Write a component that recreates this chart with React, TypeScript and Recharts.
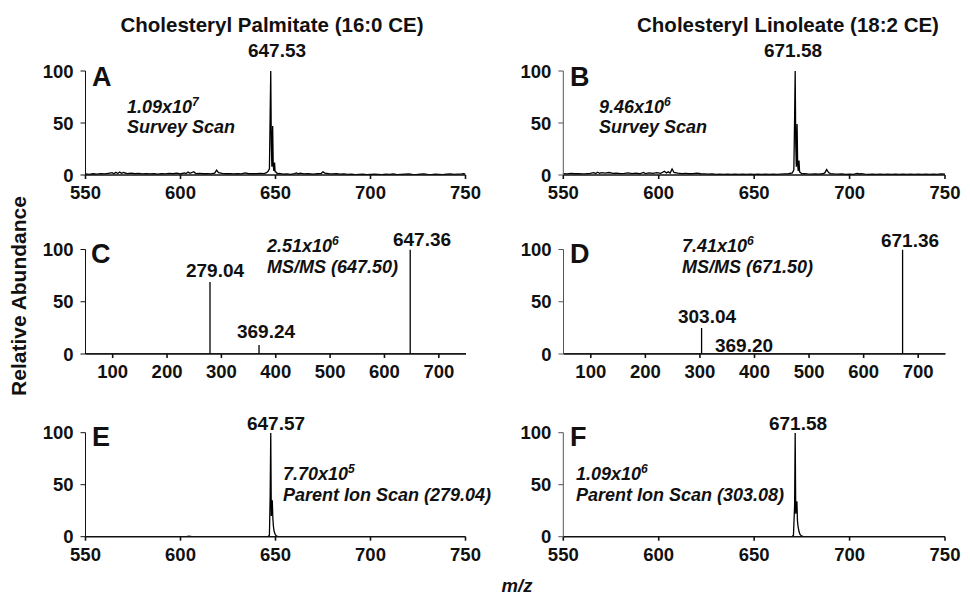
import { LineChart, Line, XAxis, YAxis } from 'recharts';

const FONT = '"Liberation Sans", Arial, Helvetica, sans-serif';

// survey scans, profile data: [m/z, relative abundance]
const surveyPalmitate: [number, number][] = [
  [550, 1], [552, 0.6], [554, 1.2], [556, 0.8], [558, 1.4], [560, 1], [562, 1.6], [564, 2.2],
  [565, 1.2], [566, 2.6], [567, 1.4], [568, 2.8], [569, 1.6], [570, 2.4], [572, 1.4], [574, 1.8],
  [576, 1.2], [578, 1.6], [580, 1], [582, 1.4], [584, 1], [586, 1.2], [588, 0.8], [590, 1.4],
  [592, 1], [594, 1.6], [596, 1.2], [598, 1.8], [600, 1], [602, 2], [603, 1.4], [604, 2.8],
  [605, 1.6], [607, 3.2], [608, 1.4], [610, 1.6], [612, 1.2], [614, 1.4], [616, 1], [618, 1.8],
  [619, 4.6], [620, 2.2], [622, 1.6], [624, 1.2], [626, 1.4], [628, 1], [630, 1.2], [632, 1],
  [634, 2], [636, 1.2], [638, 1.4], [640, 1.2], [642, 1.6], [644, 1.4], [645, 2], [646, 3.4],
  [646.8, 6], [647.2, 60], [647.5, 100], [647.8, 30], [648.1, 8], [648.5, 47], [648.8, 10],
  [649.1, 4], [649.5, 12], [649.8, 3], [650.5, 2.5], [651, 1], [652, 1.6], [654, 0.8], [656, 1],
  [658, 0.6], [660, 1.4], [661, 2], [662, 1.2], [663, 1.8], [665, 1], [667, 1.2], [670, 0.8],
  [672, 1.2], [674, 1.4], [675, 3], [676, 1.8], [678, 1.2], [680, 1], [682, 1.2], [684, 0.8],
  [686, 1], [688, 0.6], [690, 0.8], [692, 0.4], [694, 0.6], [696, 0.8], [698, 0.4], [700, 0.6],
  [702, 0.8], [704, 0.6], [706, 0.4], [708, 0.8], [710, 0.6], [712, 1], [714, 0.4], [716, 0.6],
  [718, 0.8], [720, 1], [722, 0.6], [724, 0.4], [726, 0.8], [728, 1], [730, 0.6], [732, 0.4],
  [734, 0.8], [736, 0.6], [738, 0.4], [740, 0.8], [742, 1], [744, 0.6], [746, 0.8], [748, 1],
  [749, 1.2], [750, 0.8],
];

const surveyLinoleate: [number, number][] = [
  [550, 1.4], [552, 1], [554, 1.6], [556, 1.2], [558, 1.4], [560, 1], [562, 1.2], [564, 1.6],
  [566, 2.2], [567, 1.4], [568, 2.6], [569, 1.6], [570, 2.2], [572, 1.8], [574, 2.4], [576, 1.6],
  [578, 1.8], [580, 1.4], [582, 1.6], [584, 2], [586, 1.4], [588, 1.8], [590, 1.2], [592, 2.4],
  [593, 1.4], [595, 2], [597, 1.6], [599, 2.2], [601, 1.6], [603, 3.6], [604, 2], [605, 3],
  [606, 1.8], [607, 5.8], [608, 2.4], [610, 1.8], [612, 1.4], [614, 1.6], [616, 1.2], [618, 1.4],
  [620, 1.8], [622, 1.2], [624, 1], [626, 0.8], [628, 1], [630, 0.6], [632, 0.8], [634, 0.6],
  [636, 0.8], [638, 0.6], [640, 0.8], [642, 0.6], [644, 0.8], [646, 0.6], [648, 0.8], [650, 0.6],
  [652, 0.8], [654, 0.6], [656, 0.8], [658, 0.6], [660, 0.8], [662, 0.6], [664, 0.8], [666, 1],
  [668, 1.2], [670, 2], [670.8, 5], [671.2, 55], [671.5, 100], [671.8, 30], [672.1, 8],
  [672.5, 49], [672.8, 10], [673.1, 4], [673.5, 14], [673.8, 3], [674.5, 2], [675, 1], [676, 1.4],
  [678, 1], [680, 0.8], [682, 1], [684, 0.8], [686, 1.2], [687, 2], [688, 5.2], [689, 2.4],
  [690, 1.4], [692, 1], [694, 0.8], [696, 1], [698, 0.6], [700, 0.8], [702, 0.6], [704, 1.6],
  [705, 1], [706, 1.4], [708, 0.8], [710, 0.6], [712, 0.8], [714, 0.6], [716, 0.8], [718, 0.6],
  [720, 0.8], [722, 0.6], [724, 0.8], [726, 0.6], [728, 0.8], [730, 0.6], [732, 0.8], [734, 0.6],
  [736, 0.8], [738, 0.6], [740, 0.8], [742, 0.6], [744, 0.8], [746, 0.6], [748, 1], [750, 0.8],
];

// MS/MS product ions, centroid sticks: [m/z, relative abundance]
const msmsPalmitate: [number, number][] = [
  [135, 0.8], [145, 0.8], [155, 0.8], [165, 0.8], [175, 0.8], [240, 0.6],
  [279.04, 69], [369.24, 8.5], [647.36, 100],
];
const msmsLinoleate: [number, number][] = [
  [303.04, 25], [369.2, 0.6], [671.36, 100],
];

// parent ion scans, profile data
const parentPalmitate: [number, number][] = [
  [550, 0], [603, 0], [604.5, 0.6], [606, 0], [646, 0], [646.8, 1.5], [647.2, 40], [647.5, 100],
  [647.8, 20], [648, 30], [648.3, 35], [648.6, 18], [648.9, 10], [649.3, 5], [649.9, 2],
  [650.6, 0.6], [651.5, 0], [750, 0],
];
const parentLinoleate: [number, number][] = [
  [550, 0], [669.8, 0], [670.6, 1.5], [671.2, 30], [671.5, 100], [671.8, 22], [672.1, 30],
  [672.4, 34], [672.7, 15], [673, 10], [673.5, 5], [674.1, 2], [675, 0.5], [676, 0], [750, 0],
];

const surveyTicks = [550, 600, 650, 700, 750];
const msmsTicks = [100, 200, 300, 400, 500, 600, 700];
const abundanceTicks = [0, 50, 100];

type Pt = { mz: number; ab: number };
const profile = (pts: [number, number][]): Pt[] => pts.map(([mz, ab]) => ({ mz, ab }));
const sticks = (pts: [number, number][], lo: number, hi: number): Pt[] => {
  const out: Pt[] = [{ mz: lo, ab: 0 }];
  pts.forEach(([mz, ab]) => {
    out.push({ mz, ab: 0 }, { mz, ab }, { mz, ab: 0 });
  });
  out.push({ mz: hi, ab: 0 });
  return out;
};

type PanelProps = {
  left: number;
  top: number;
  plotLeft: number;
  plotTop: number;
  plotWidth: number;
  plotHeight: number;
  domain: [number, number];
  ticks: number[];
  data: Pt[];
  axisColor: string;
};

function Panel({ left, top, plotLeft, plotTop, plotWidth, plotHeight, domain, ticks, data, axisColor }: PanelProps) {
  const width = 485;
  const height = 160;
  const yw = plotLeft - left;
  const mt = plotTop - top;
  const xh = height - mt - plotHeight;
  const tickStyle = { fontSize: 18.5, fontWeight: 700, fill: '#111', fontFamily: FONT };
  return (
    <div style={{ position: 'absolute', left, top }}>
      <LineChart
        width={width}
        height={height}
        data={data}
        margin={{ top: mt, left: 0, right: width - yw - plotWidth, bottom: 0 }}
      >
        <XAxis
          type="number"
          dataKey="mz"
          domain={domain}
          ticks={ticks}
          allowDataOverflow
          height={xh}
          tickSize={4}
          tickMargin={7}
          stroke="#111"
          strokeWidth={1.6}
          tick={tickStyle}
          interval={0}
        />
        <YAxis
          type="number"
          domain={[0, 100]}
          ticks={abundanceTicks}
          allowDataOverflow
          width={yw}
          tickSize={5}
          tickMargin={7}
          stroke={axisColor}
          tick={tickStyle}
          interval={0}
        />
        <Line
          type="linear"
          dataKey="ab"
          stroke="#000"
          strokeWidth={1.3}
          dot={false}
          activeDot={false}
          isAnimationActive={false}
        />
      </LineChart>
    </div>
  );
}

function Sup({ base, exp }: { base: string; exp: string }) {
  return (
    <>
      {base}
      <tspan dy={-7} fontSize={12}>{exp}</tspan>
    </>
  );
}

export default function App() {
  const bold = { fontFamily: FONT, fontWeight: 700, fill: '#111' } as const;
  const italic = { ...bold, fontStyle: 'italic' as const, fontSize: 18 };
  const peak = { ...bold, fontSize: 19, textAnchor: 'middle' as const };
  const letter = { ...bold, fontSize: 27 };

  return (
    <div
      style={{
        position: 'absolute',
        left: 0,
        top: 0,
        width: 970,
        height: 595,
        background: '#fff',
        overflow: 'hidden',
        fontFamily: FONT,
      }}
    >
      <Panel left={0} top={55} plotLeft={85.5} plotTop={71} plotWidth={380} plotHeight={104}
        domain={[550, 750]} ticks={surveyTicks} data={profile(surveyPalmitate)} axisColor="#111" />
      <Panel left={485} top={55} plotLeft={563.3} plotTop={71} plotWidth={381.7} plotHeight={104}
        domain={[550, 750]} ticks={surveyTicks} data={profile(surveyLinoleate)} axisColor="#555" />
      <Panel left={0} top={235} plotLeft={85.5} plotTop={249.5} plotWidth={380.5} plotHeight={104.5}
        domain={[50, 750]} ticks={msmsTicks} data={sticks(msmsPalmitate, 50, 750)} axisColor="#111" />
      <Panel left={485} top={235} plotLeft={563.5} plotTop={249.5} plotWidth={382} plotHeight={104.5}
        domain={[50, 750]} ticks={msmsTicks} data={sticks(msmsLinoleate, 50, 750)} axisColor="#555" />
      <Panel left={0} top={415} plotLeft={85.5} plotTop={432.7} plotWidth={380} plotHeight={104}
        domain={[550, 750]} ticks={surveyTicks} data={profile(parentPalmitate)} axisColor="#111" />
      <Panel left={485} top={415} plotLeft={563.3} plotTop={432.7} plotWidth={381.7} plotHeight={104}
        domain={[550, 750]} ticks={surveyTicks} data={profile(parentLinoleate)} axisColor="#555" />

      <svg width={970} height={595} style={{ position: 'absolute', left: 0, top: 0, pointerEvents: 'none' }}>
        {/* column titles */}
        <text x={272} y={32} {...bold} fontSize={20.5} textAnchor="middle">Cholesteryl Palmitate (16:0 CE)</text>
        <text x={788} y={32} {...bold} fontSize={20.5} textAnchor="middle">Cholesteryl Linoleate (18:2 CE)</text>

        {/* panel letters */}
        <text x={92} y={86} {...letter}>A</text>
        <text x={570} y={86} {...letter}>B</text>
        <text x={91} y={263} {...letter}>C</text>
        <text x={570} y={263} {...letter}>D</text>
        <text x={92} y={446} {...letter}>E</text>
        <text x={570} y={446} {...letter}>F</text>

        {/* peak labels */}
        <text x={277} y={57} {...peak}>647.53</text>
        <text x={793} y={57} {...peak}>671.58</text>
        <text x={215} y={277} {...peak}>279.04</text>
        <text x={266} y={338} {...peak}>369.24</text>
        <text x={422} y={246} {...peak}>647.36</text>
        <text x={707} y={323} {...peak}>303.04</text>
        <text x={744} y={352} {...peak}>369.20</text>
        <text x={910} y={247} {...peak}>671.36</text>
        <text x={276} y={430} {...peak}>647.57</text>
        <text x={798} y={430} {...peak}>671.58</text>

        {/* scan annotations */}
        <text x={127} y={113} {...italic}><Sup base="1.09x10" exp="7" /></text>
        <text x={127} y={133} {...italic}>Survey Scan</text>
        <text x={599} y={113} {...italic}><Sup base="9.46x10" exp="6" /></text>
        <text x={599} y={133} {...italic}>Survey Scan</text>
        <text x={267} y={252} {...italic}><Sup base="2.51x10" exp="6" /></text>
        <text x={267} y={273} {...italic}>MS/MS (647.50)</text>
        <text x={682} y={252} {...italic}><Sup base="7.41x10" exp="6" /></text>
        <text x={682} y={273} {...italic}>MS/MS (671.50)</text>
        <text x={283} y={480} {...italic}><Sup base="7.70x10" exp="5" /></text>
        <text x={283} y={501} {...italic}>Parent Ion Scan (279.04)</text>
        <text x={576} y={480} {...italic}><Sup base="1.09x10" exp="6" /></text>
        <text x={576} y={501} {...italic}>Parent Ion Scan (303.08)</text>

        {/* shared axis titles */}
        <text x={26} y={296} {...bold} fontSize={21} textAnchor="middle" transform="rotate(-90 26 296)">
          Relative Abundance
        </text>
        <text x={517} y={592} {...bold} fontSize={18.5} fontStyle="italic" textAnchor="middle">m/z</text>
      </svg>
    </div>
  );
}
